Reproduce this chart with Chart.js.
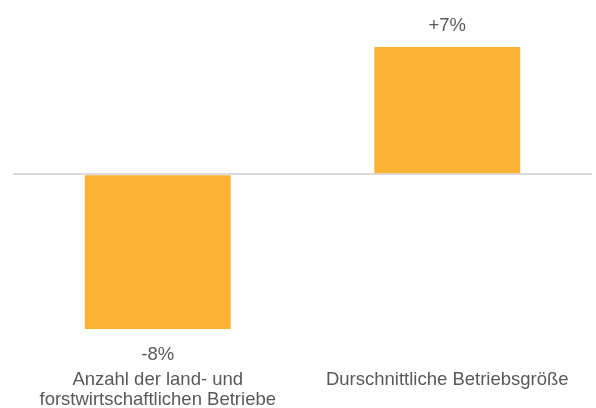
<!DOCTYPE html>
<html>
<head>
<meta charset="utf-8">
<script src="https://cdn.jsdelivr.net/npm/chart.js@4"></script>
<style>
  html, body { margin: 0; padding: 0; background: #fff; }
  #wrap { width: 596px; height: 408px; }
</style>
</head>
<body>
<div id="wrap"><canvas id="chart" width="596" height="408"></canvas></div>
<script>
const categories = [
  ['Anzahl der land- und', 'forstwirtschaftlichen Betriebe'],
  'Durschnittliche Betriebsgröße'
];
const changes = [-8.4, 6.9];

const FONT = '"Liberation Sans", Arial, sans-serif';

// value labels above / below the bars
const valueLabels = {
  id: 'valueLabels',
  afterDatasetsDraw(chart) {
    const ctx = chart.ctx;
    const meta = chart.getDatasetMeta(0);
    ctx.save();
    ctx.font = '18.5px ' + FONT;
    ctx.fillStyle = '#595959';
    ctx.textAlign = 'center';
    ctx.textBaseline = 'middle';
    meta.data.forEach((bar, i) => {
      const v = changes[i];
      const txt = (v > 0 ? '+' : '') + Math.round(v) + '%';
      const y = v >= 0 ? bar.y - 21 : bar.y + 26;
      ctx.fillText(txt, bar.x, y);
    });
    ctx.restore();
  }
};

new Chart(document.getElementById('chart').getContext('2d'), {
  type: 'bar',
  data: {
    labels: categories,
    datasets: [{
      data: changes,
      backgroundColor: '#F9B234',
      borderWidth: 0,
      categoryPercentage: 1,
      barPercentage: 0.504
    }]
  },
  options: {
    responsive: false,
    animation: false,
    layout: { padding: { top: 47, left: 13, right: 4, bottom: 1 } },
    plugins: {
      legend: { display: false },
      tooltip: { enabled: false }
    },
    scales: {
      x: {
        grid: { display: false, drawTicks: false },
        border: { display: false },
        ticks: {
          color: '#595959',
          font: { family: FONT, size: 18.5, lineHeight: 1.07 },
          padding: 41,
          maxRotation: 0,
          autoSkip: false
        },
        afterFit: (scale) => {
          scale.height = 78;
          scale.paddingLeft = 0;
          scale.paddingRight = 0;
        }
      },
      y: {
        min: -8.4,
        max: 6.9,
        ticks: { display: false, stepSize: 1 },
        border: { display: false },
        grid: {
          drawTicks: false,
          lineWidth: 2,
          color: (c) => (c.tick && c.tick.value === 0 ? '#D9D9D9' : 'rgba(0,0,0,0)')
        }
      }
    }
  },
  plugins: [valueLabels]
});
</script>
</body>
</html>
